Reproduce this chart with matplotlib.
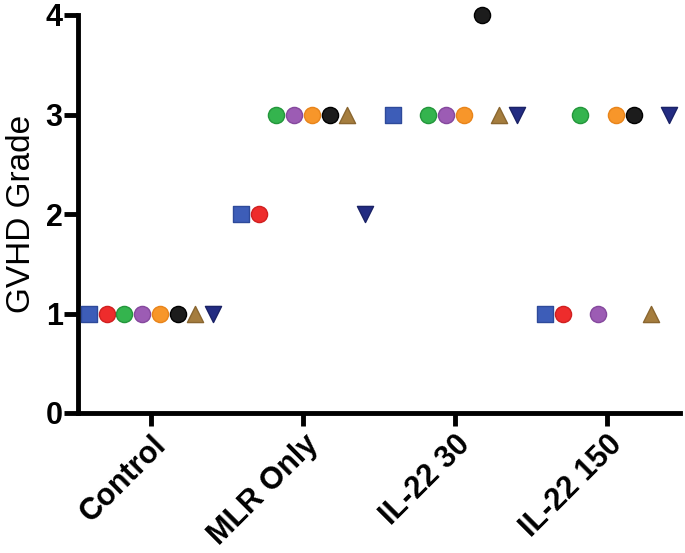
import numpy as np
import matplotlib
matplotlib.use("Agg")
import matplotlib.pyplot as plt
import matplotlib.transforms as mtransforms

plt.rcParams['font.family'] = ['Liberation Sans', 'DejaVu Sans']

groups = ["Control", "MLR Only", "IL-22 30", "IL-22 150"]
# one value per animal (8 animals), per group; nan = not shown
blue_square   = [1, 2, 3, 1]
red_circle    = [1, 2, np.nan, 1]
green_circle  = [1, 3, 3, 3]
purple_circle = [1, 3, 3, 1]
orange_circle = [1, 3, 3, 3]
black_circle  = [1, 3, 4, 3]
brown_tri_up  = [1, 3, 3, 1]
navy_tri_down = [1, 2, 3, 3]

series = [
    (blue_square,   's', '#3D5DB8', '#2E4A9A'),
    (red_circle,    'o', '#EE2C2C', '#D01F1F'),
    (green_circle,  'o', '#34B44E', '#23963B'),
    (purple_circle, 'o', '#9C5CB4', '#85489D'),
    (orange_circle, 'o', '#F7962A', '#E8841A'),
    (black_circle,  'o', '#1C1C1C', '#000000'),
    (brown_tri_up,  '^', '#A57D3E', '#8A6630'),
    (navy_tri_down, 'v', '#232C82', '#1A2266'),
]

fig = plt.figure(figsize=(6.85, 5.53), dpi=100)
ax = fig.add_axes([78/685, 140/553, 602/685, 398/553])

step = 0.117
xg = np.arange(len(groups))
for i, (vals, mk, fc, ec) in enumerate(series):
    off = (i - 3.5) * step
    ax.scatter(xg + off, vals, marker=mk, s=135 if mk != 's' else 120,
               facecolor=fc, edgecolor=ec, linewidth=1.0, zorder=3, clip_on=False)

ax.set_xlim(-0.48, 3.48)
ax.set_ylim(0, 4)
ax.set_yticks([0, 1, 2, 3, 4])
ax.set_xticks(xg)
ax.set_xticklabels(groups, rotation=45, ha='right', rotation_mode='anchor',
                   fontsize=22, fontweight='bold')
shift = mtransforms.ScaledTranslation(-6/100, -3/100, fig.dpi_scale_trans)
for lab in ax.get_xticklabels():
    lab.set_transform(lab.get_transform() + shift)
for lab in ax.get_yticklabels():
    lab.set_fontsize(22)
    lab.set_fontweight('bold')
ax.set_ylabel("GVHD Grade", fontsize=24, labelpad=6)

for s in ['top', 'right']:
    ax.spines[s].set_visible(False)
for s in ['left', 'bottom']:
    ax.spines[s].set_linewidth(3.5)
ax.tick_params(axis='y', width=3.5, length=10, pad=1)
ax.tick_params(axis='x', width=3.5, length=9, pad=3)

fig.savefig("out.png", dpi=100)
